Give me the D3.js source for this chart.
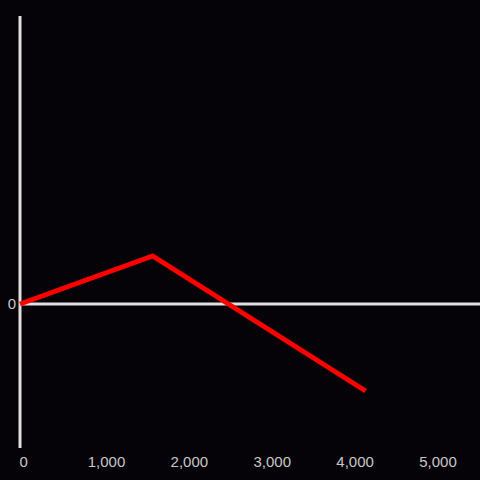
<!DOCTYPE html>
<html><head><meta charset="utf-8">
<script src="https://cdn.jsdelivr.net/npm/d3@7"></script>
<style>html,body{margin:0;padding:0;background:#050307;}svg{display:block;}</style>
</head><body>
<script>
const xValues = [0, 1600, 4170];
const yValues = [0, 48, -87];
const xTicks = [0, 1000, 2000, 3000, 4000, 5000];
const yTicks = [0];

const W = 480, H = 480;
const svg = d3.select("body").append("svg").attr("width", W).attr("height", H);
svg.append("rect").attr("width", W).attr("height", H).attr("fill", "#050307");

const x = d3.scaleLinear().domain([0, 5550]).range([20, 480]);
const y = d3.scaleLinear().domain([-144, 288]).range([448, 16]);

// axis lines
svg.append("line").attr("x1", x(0)).attr("x2", x(0)).attr("y1", y(288)).attr("y2", y(-144))
  .attr("stroke", "#e0e0e0").attr("stroke-width", 3);
svg.append("line").attr("x1", x(0)).attr("x2", 480).attr("y1", y(0)).attr("y2", y(0))
  .attr("stroke", "#e0e0e0").attr("stroke-width", 3);

const fmt = d3.format(",");
svg.append("g").selectAll("text").data(xTicks).join("text")
  .attr("x", d => x(d) + 3.6).attr("y", 467)
  .attr("text-anchor", "middle")
  .attr("font-family", "Liberation Sans, Arial, sans-serif").attr("font-size", 15)
  .attr("fill", "#c8c8c8").text(d => fmt(d));

svg.append("g").selectAll("text").data(yTicks).join("text")
  .attr("x", 16).attr("y", d => y(d)).attr("dy", "0.35em")
  .attr("text-anchor", "end")
  .attr("font-family", "Liberation Sans, Arial, sans-serif").attr("font-size", 15)
  .attr("fill", "#c8c8c8").text(d => fmt(d));

const pts = xValues.map((v, i) => [v, yValues[i]]);
svg.append("path").datum(pts)
  .attr("d", d3.line().x(d => x(d[0])).y(d => y(d[1])))
  .attr("fill", "none").attr("stroke", "#ff0000").attr("stroke-width", 5)
  .attr("stroke-linejoin", "miter").attr("stroke-linecap", "butt");
</script>
</body></html>
